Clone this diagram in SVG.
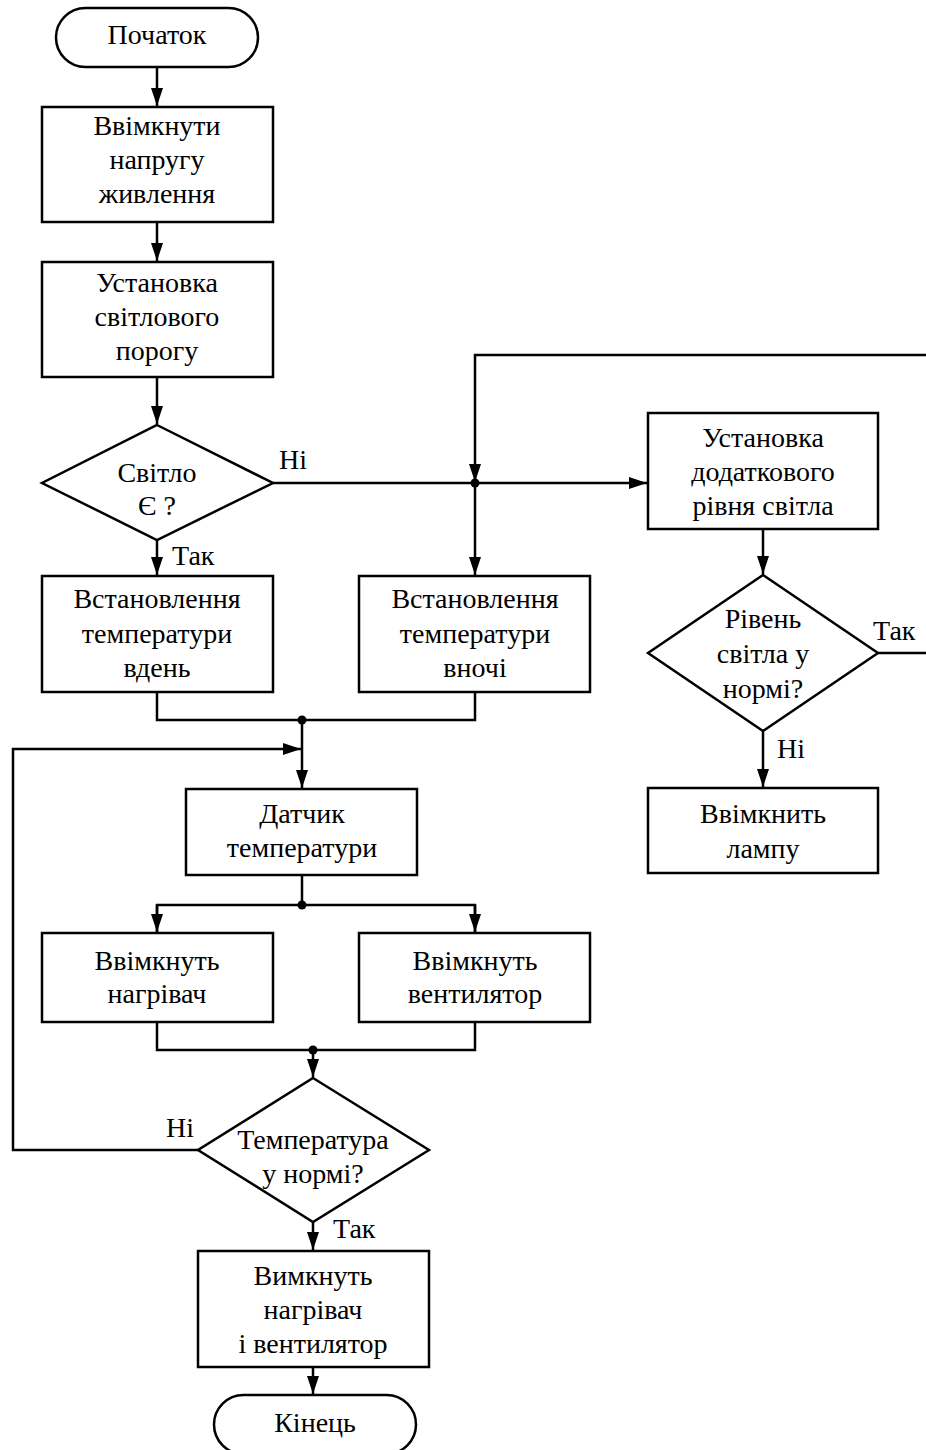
<svg xmlns="http://www.w3.org/2000/svg" width="926" height="1450" viewBox="0 0 926 1450">
<style>
.s{fill:#fff;stroke:#000;stroke-width:2.5}
.t{font-family:"Liberation Serif","Times New Roman",serif;font-size:28px;fill:#000;text-anchor:middle}
.l{font-family:"Liberation Serif","Times New Roman",serif;font-size:28px;fill:#000}
.c{fill:none;stroke:#000;stroke-width:2.5}
.d{fill:#000}
</style>
<defs>
<marker id="a" markerUnits="userSpaceOnUse" markerWidth="19" markerHeight="13" refX="18" refY="6" orient="auto">
<path d="M0,0 L18,6 L0,12 z" fill="#000"/>
</marker>
</defs>
<g id="connectors">
<path class="c" d="M157,67 V106" marker-end="url(#a)"/>
<path class="c" d="M157,222 V261" marker-end="url(#a)"/>
<path class="c" d="M157,377 V424" marker-end="url(#a)"/>
<path class="c" d="M157,540 V575" marker-end="url(#a)"/>
<path class="c" d="M273,483 H647" marker-end="url(#a)"/>
<path class="c" d="M878,653 H930 V355 H475 V482" marker-end="url(#a)"/>
<path class="c" d="M475,483 V575" marker-end="url(#a)"/>
<path class="c" d="M763,529 V574" marker-end="url(#a)"/>
<path class="c" d="M763,731 V787" marker-end="url(#a)"/>
<path class="c" d="M157,692 V720 H475 V692"/>
<path class="c" d="M302,720 V788" marker-end="url(#a)"/>
<path class="c" d="M199,1150 H13 V749 H301" marker-end="url(#a)"/>
<path class="c" d="M302,875 V905"/>
<path class="c" d="M157,932 V905 H475 V932"/>
<path class="c" d="M157,905 V932" marker-end="url(#a)"/>
<path class="c" d="M475,905 V932" marker-end="url(#a)"/>
<path class="c" d="M157,1022 V1050 H475 V1022"/>
<path class="c" d="M313,1050 V1077" marker-end="url(#a)"/>
<path class="c" d="M313,1222 V1250" marker-end="url(#a)"/>
<path class="c" d="M313,1367 V1394" marker-end="url(#a)"/>
<circle class="d" cx="475" cy="483" r="4.5"/>
<circle class="d" cx="302" cy="720" r="4.5"/>
<circle class="d" cx="302" cy="905" r="4.5"/>
<circle class="d" cx="313" cy="1050" r="4.5"/>
<text class="l" x="279" y="469">Ні</text>
<text class="l" x="172" y="565">Так</text>
<text class="l" x="873" y="640">Так</text>
<text class="l" x="777" y="758">Ні</text>
<text class="l" x="166" y="1137">Ні</text>
<text class="l" x="333" y="1238">Так</text>
</g>
<g id="start">
<rect class="s" x="56" y="8" width="202" height="59" rx="29.5"/>
<text class="t" x="157" y="44">Початок</text>
</g>
<g id="power">
<rect class="s" x="42" y="107" width="231" height="115"/>
<text class="t" x="157" y="135">Ввімкнути</text>
<text class="t" x="157" y="169">напругу</text>
<text class="t" x="157" y="203">живлення</text>
</g>
<g id="threshold">
<rect class="s" x="42" y="262" width="231" height="115"/>
<text class="t" x="157" y="292">Установка</text>
<text class="t" x="157" y="326">світлового</text>
<text class="t" x="157" y="360">порогу</text>
</g>
<g id="light">
<polygon class="s" points="157,425 273,483 157,540 42,483"/>
<text class="t" x="157" y="482">Світло</text>
<text class="t" x="157" y="515">Є ?</text>
</g>
<g id="day">
<rect class="s" x="42" y="576" width="231" height="116"/>
<text class="t" x="157" y="608">Встановлення</text>
<text class="t" x="157" y="643">температури</text>
<text class="t" x="157" y="677">вдень</text>
</g>
<g id="night">
<rect class="s" x="359" y="576" width="231" height="116"/>
<text class="t" x="475" y="608">Встановлення</text>
<text class="t" x="475" y="643">температури</text>
<text class="t" x="475" y="677">вночі</text>
</g>
<g id="extra">
<rect class="s" x="648" y="413" width="230" height="116"/>
<text class="t" x="763" y="447">Установка</text>
<text class="t" x="763" y="481">додаткового</text>
<text class="t" x="763" y="515">рівня світла</text>
</g>
<g id="lightlevel">
<polygon class="s" points="763,575 878,653 763,731 648,653"/>
<text class="t" x="763" y="628">Рівень</text>
<text class="t" x="763" y="663">світла у</text>
<text class="t" x="763" y="698">нормі?</text>
</g>
<g id="lamp">
<rect class="s" x="648" y="788" width="230" height="85"/>
<text class="t" x="763" y="823">Ввімкнить</text>
<text class="t" x="763" y="858">лампу</text>
</g>
<g id="sensor">
<rect class="s" x="186" y="789" width="231" height="86"/>
<text class="t" x="302" y="823">Датчик</text>
<text class="t" x="302" y="857">температури</text>
</g>
<g id="heater">
<rect class="s" x="42" y="933" width="231" height="89"/>
<text class="t" x="157" y="970">Ввімкнуть</text>
<text class="t" x="157" y="1003">нагрівач</text>
</g>
<g id="fan">
<rect class="s" x="359" y="933" width="231" height="89"/>
<text class="t" x="475" y="970">Ввімкнуть</text>
<text class="t" x="475" y="1003">вентилятор</text>
</g>
<g id="temp">
<polygon class="s" points="313,1078 429,1150 313,1222 198,1150"/>
<text class="t" x="313" y="1149">Температура</text>
<text class="t" x="313" y="1183">у нормі?</text>
</g>
<g id="off">
<rect class="s" x="198" y="1251" width="231" height="116"/>
<text class="t" x="313" y="1285">Вимкнуть</text>
<text class="t" x="313" y="1319">нагрівач</text>
<text class="t" x="313" y="1353">і вентилятор</text>
</g>
<g id="end">
<rect class="s" x="214" y="1395" width="202" height="59" rx="29.5"/>
<text class="t" x="315" y="1432">Кінець</text>
</g>
</svg>
